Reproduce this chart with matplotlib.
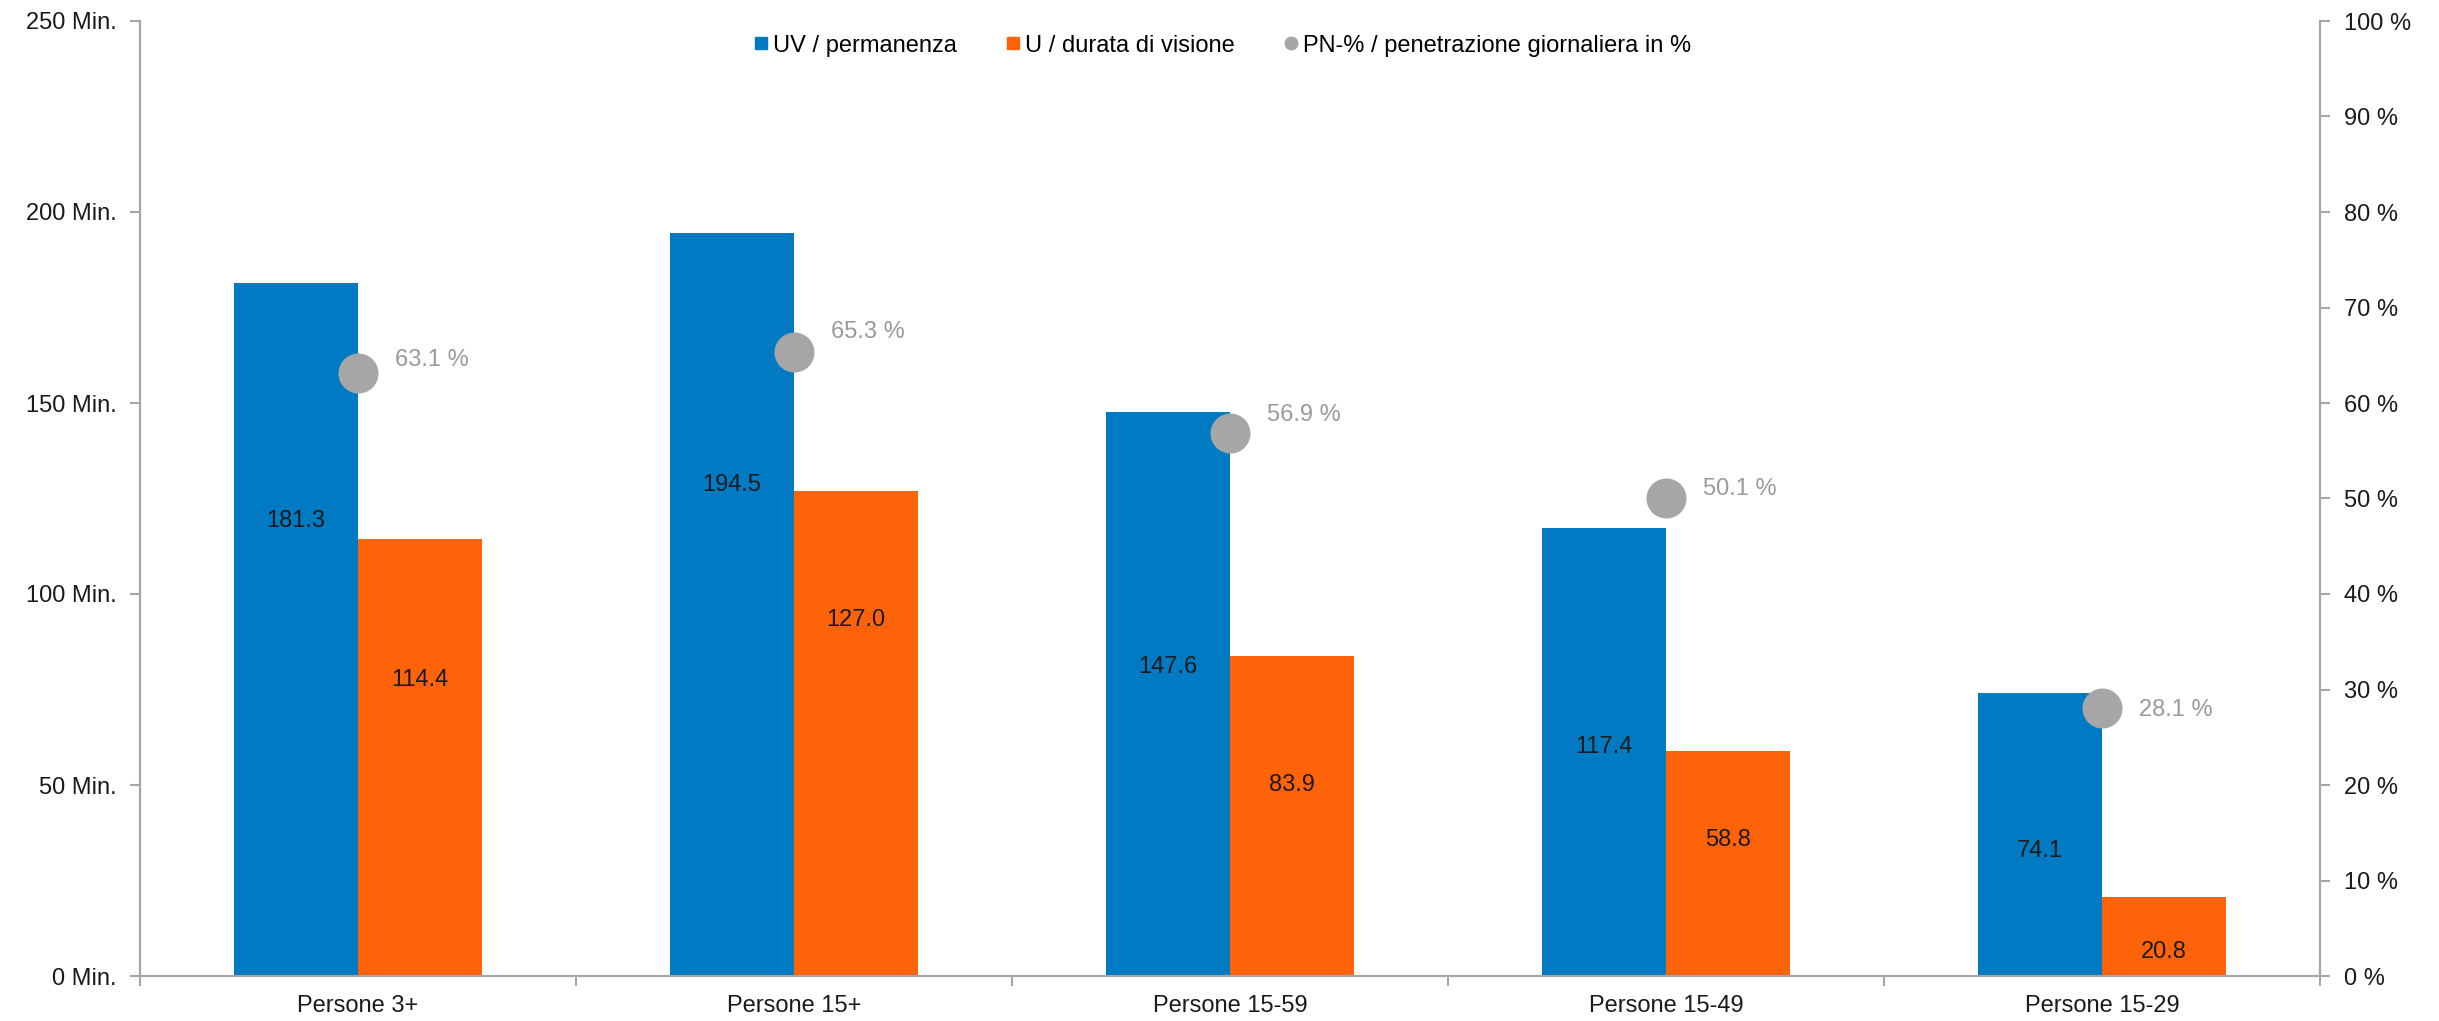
import numpy as np
import matplotlib.pyplot as plt
from matplotlib.lines import Line2D

plt.rcParams['font.family'] = ['Liberation Sans', 'DejaVu Sans']
plt.rcParams['font.size'] = 17

categories = ['Persone 3+', 'Persone 15+', 'Persone 15-59', 'Persone 15-49', 'Persone 15-29']
uv_perm = [181.3, 194.5, 147.6, 117.4, 74.1]
u_durata = [114.4, 127.0, 83.9, 58.8, 20.8]
pn_pct = [63.1, 65.3, 56.9, 50.1, 28.1]

# where the value labels sit inside the bars (fraction of bar height)
uv_lab_frac = [0.657, 0.661, 0.548, 0.51, 0.44]
u_lab_frac = [0.677, 0.734, 0.596, 0.605, 0.30]
# vertical nudge of the % labels (points)
pn_lab_dy = [9.4, 14.4, 13, 6.5, -1.4]

blue = '#007AC3'
orange = '#FF6309'
dot = '#A6A6A6'
axis_col = '#A6A6A6'
txt = '#1a1a1a'

fig = plt.figure(figsize=(24.39, 10.21), dpi=100)
ax = fig.add_axes([140/2439, 1 - 976/1021, (2320-140)/2439, (976-21)/1021])
ax2 = ax.twinx()

x = np.arange(len(categories))
w = 0.285
ax.bar(x - w/2, uv_perm, w, color=blue, linewidth=0)
ax.bar(x + w/2, u_durata, w, color=orange, linewidth=0)

for xi, v, f in zip(x, uv_perm, uv_lab_frac):
    ax.text(xi - w/2, v*f, f'{v:.1f}', ha='center', va='center', color=txt)
for xi, v, f in zip(x, u_durata, u_lab_frac):
    ax.text(xi + w/2, v*f, f'{v:.1f}', ha='center', va='center', color=txt)

ax2.scatter(x, pn_pct, s=830, color=dot, zorder=5, linewidths=0)
for xi, v, dy in zip(x, pn_pct, pn_lab_dy):
    ax2.annotate(f'{v:.1f} %', (xi, v), xytext=(26.5, dy), textcoords='offset points',
                 ha='left', va='center', color='#9a9a9a')

ax.set_xlim(-0.5, len(categories) - 0.5)
ax.set_ylim(0, 250)
ax2.set_ylim(0, 100)
ax.set_yticks(np.arange(0, 251, 50))
ax.set_yticklabels([f'{t} Min.' for t in range(0, 251, 50)])
ax2.set_yticks(np.arange(0, 101, 10))
ax2.set_yticklabels([f'{t} %' for t in range(0, 101, 10)])

ax.set_xticks(x)
ax.set_xticklabels(categories)
ax.set_xticks(np.arange(-0.5, len(categories), 1), minor=True)
ax.tick_params(axis='x', which='major', length=0, pad=14, labelcolor=txt)
ax.tick_params(axis='x', which='minor', length=7, color=axis_col, width=1.5)
ax.tick_params(axis='y', length=7, color=axis_col, width=1.5, pad=10, labelcolor=txt)
ax2.tick_params(axis='y', length=7, color=axis_col, width=1.5, pad=10, labelcolor=txt)

for a in (ax, ax2):
    a.spines['top'].set_visible(False)
    for s in ('left', 'right', 'bottom'):
        a.spines[s].set_color(axis_col)
        a.spines[s].set_linewidth(1.5)

handles = [
    Line2D([], [], marker='s', linestyle='none', color=blue, markersize=8),
    Line2D([], [], marker='s', linestyle='none', color=orange, markersize=8),
    Line2D([], [], marker='o', linestyle='none', color=dot, markersize=9),
]
labels = ['UV / permanenza', 'U / durata di visione', 'PN-% / penetrazione giornaliera in %']
ax2.legend(handles, labels, loc='upper center', bbox_to_anchor=(0.496, 1.008), ncol=3,
           frameon=False, handletextpad=0.1, columnspacing=2.0, handlelength=0.8)

plt.savefig('out.png', dpi=100)
